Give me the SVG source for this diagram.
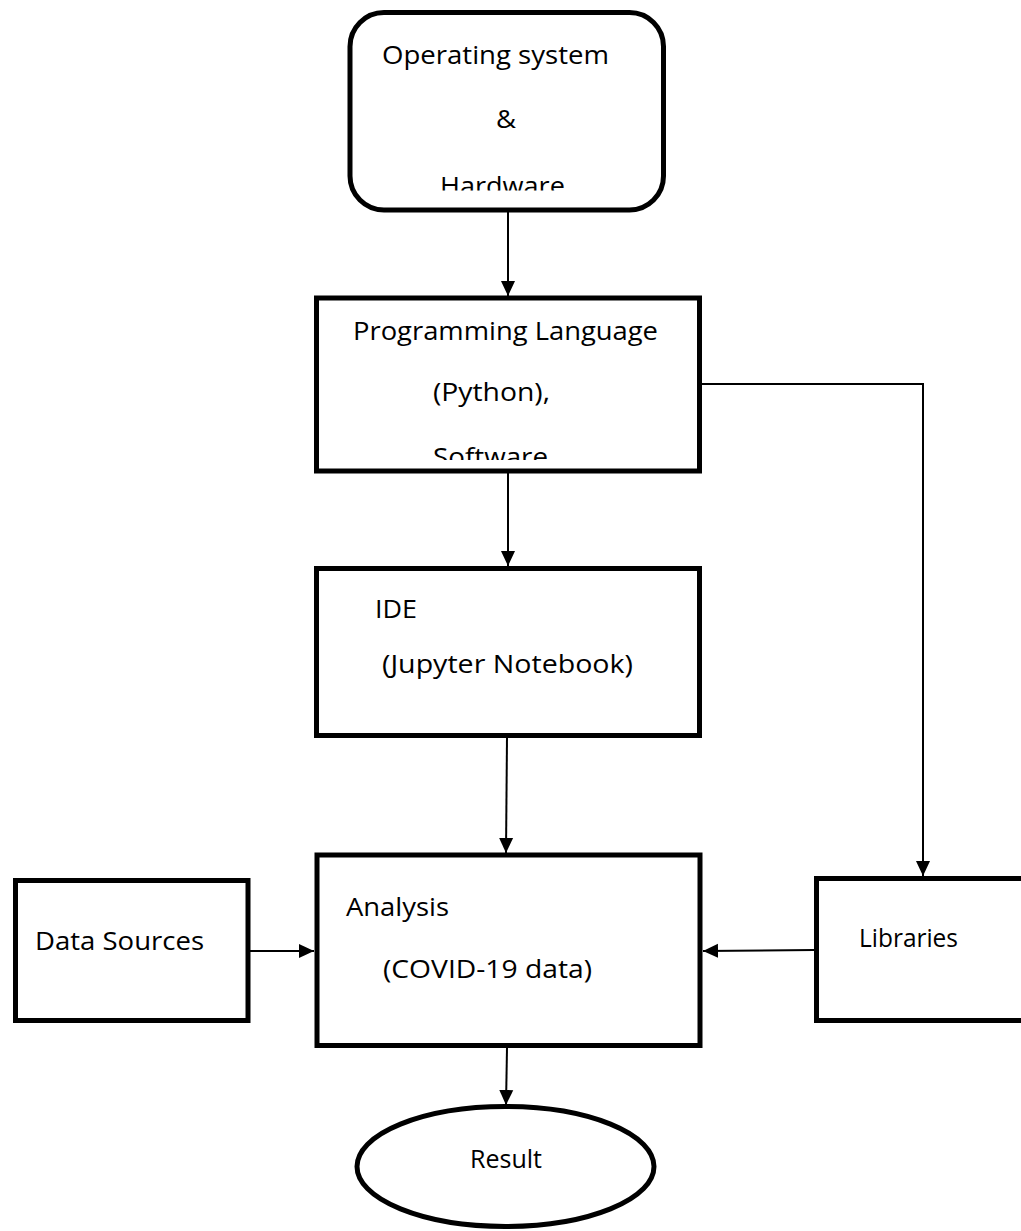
<svg xmlns="http://www.w3.org/2000/svg" width="1021" height="1231" viewBox="0 0 1021 1231">
<style>
.box{fill:#fff;stroke:#000;stroke-width:5}
.rbox{fill:#fff;stroke:#000;stroke-width:5}
.lbl{font-family:"Open Sans","Liberation Sans",sans-serif;font-size:25px;fill:#000}
.con{fill:none;stroke:#000;stroke-width:2}
</style>
<defs>
<marker id="ah" markerUnits="userSpaceOnUse" markerWidth="16" markerHeight="16" viewBox="0 0 16 16" refX="15" refY="8" orient="auto">
<path d="M0,1 L15,8 L0,15 Z" fill="#000"/>
</marker>
<clipPath id="clip1"><rect x="350" y="12" width="314" height="178.5"/></clipPath>
<clipPath id="clip2"><rect x="316" y="298" width="384" height="162"/></clipPath>
</defs>
<rect width="1021" height="1231" fill="#fff"/>
<g id="connectors">
<line class="con" x1="508" y1="212" x2="508" y2="296" marker-end="url(#ah)"/>
<line class="con" x1="508" y1="473" x2="508" y2="566" marker-end="url(#ah)"/>
<line class="con" x1="507" y1="737" x2="506" y2="853" marker-end="url(#ah)"/>
<polyline class="con" points="701,384 923,384 923,876" marker-end="url(#ah)"/>
<line class="con" x1="250" y1="951" x2="314" y2="951" marker-end="url(#ah)"/>
<line class="con" x1="814" y1="950" x2="703" y2="951" marker-end="url(#ah)"/>
<line class="con" x1="507" y1="1048" x2="506" y2="1105" marker-end="url(#ah)"/>
</g>
<g id="node-os">
<rect class="rbox" x="350" y="12.5" width="313.5" height="197.5" rx="34" ry="34"/>
<g clip-path="url(#clip1)">
<text class="lbl" x="382" y="64" textLength="227" lengthAdjust="spacingAndGlyphs">Operating system</text>
<text class="lbl" x="496" y="128" textLength="20" lengthAdjust="spacingAndGlyphs">&amp;</text>
<text class="lbl" x="440" y="195" textLength="132" lengthAdjust="spacingAndGlyphs">Hardware.</text>
</g>
</g>
<g id="node-lang">
<rect class="box" x="316.5" y="298" width="383" height="173"/>
<g clip-path="url(#clip2)">
<text class="lbl" x="353" y="340" textLength="305" lengthAdjust="spacingAndGlyphs">Programming Language</text>
<text class="lbl" x="433" y="401" textLength="117" lengthAdjust="spacingAndGlyphs">(Python),</text>
<text class="lbl" x="433" y="466" textLength="115" lengthAdjust="spacingAndGlyphs">Software</text>
</g>
</g>
<g id="node-ide">
<rect class="box" x="316.5" y="568.5" width="383" height="167"/>
<text class="lbl" x="375" y="618" textLength="42" lengthAdjust="spacingAndGlyphs">IDE</text>
<text class="lbl" x="382" y="673" textLength="251" lengthAdjust="spacingAndGlyphs">(Jupyter Notebook)</text>
</g>
<g id="node-analysis">
<rect class="box" x="317" y="855" width="383" height="190.5"/>
<text class="lbl" x="346" y="916" textLength="103" lengthAdjust="spacingAndGlyphs">Analysis</text>
<text class="lbl" x="383" y="978" textLength="209" lengthAdjust="spacingAndGlyphs">(COVID-19 data)</text>
</g>
<g id="node-data">
<rect class="box" x="15.5" y="880.5" width="232.5" height="140"/>
<text class="lbl" x="35" y="950" textLength="169" lengthAdjust="spacingAndGlyphs">Data Sources</text>
</g>
<g id="node-libs">
<rect class="box" x="816.5" y="878.5" width="210" height="142"/>
<text class="lbl" x="859" y="947" textLength="99" lengthAdjust="spacingAndGlyphs">Libraries</text>
</g>
<g id="node-result">
<ellipse cx="505.5" cy="1166.5" rx="148.5" ry="60" fill="#fff" stroke="#000" stroke-width="5"/>
<text class="lbl" x="470" y="1168" font-size="23" textLength="72" lengthAdjust="spacingAndGlyphs">Result</text>
</g>
</svg>
